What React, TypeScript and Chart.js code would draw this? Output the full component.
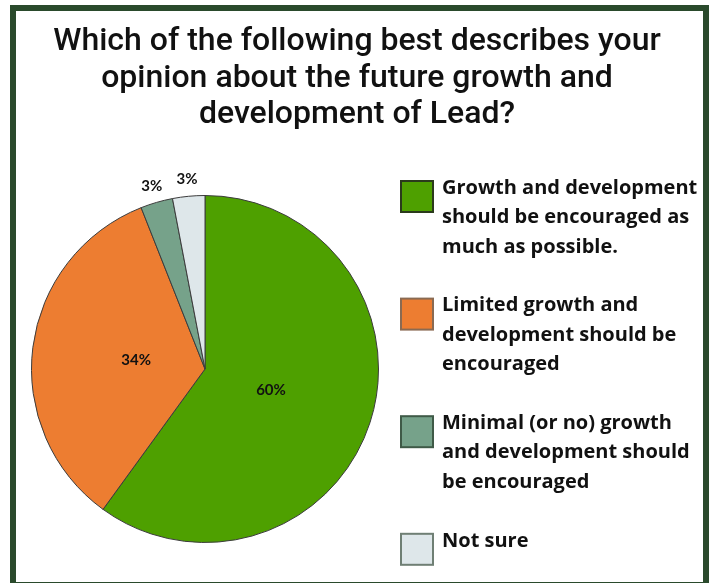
import React, { useEffect, useRef } from "react";
import { Chart, registerables } from "chart.js";

Chart.register(...registerables);

const titleLines = [
  "Which of the following best describes your",
  "opinion about the future growth and",
  "development of Lead?",
];
const categories = [
  ["Growth and development", "should be encouraged as", "much as possible."],
  ["Limited growth and", "development should be", "encouraged"],
  ["Minimal (or no) growth", "and development should", "be encouraged"],
  ["Not sure"],
];
const values = [60, 34, 3, 3];
const colors = ["#4EA000", "#ED7D31", "#76A28A", "#DEE7EA"];
const squareBorders = ["#2B3A1C", "#8A6A52", "#3F5A47", "#6F7F74"];

const framePlugin = {
  id: "frame",
  beforeDraw(chart: any) {
    const ctx = chart.ctx;
    ctx.save();
    ctx.fillStyle = "#ffffff";
    ctx.fillRect(0, 0, chart.width, chart.height);
    ctx.strokeStyle = "#2A4A2C";
    ctx.lineWidth = 6;
    ctx.strokeRect(13, 8, 693, 577);
    ctx.restore();
  },
  afterDraw(chart: any) {
    const ctx = chart.ctx;
    ctx.save();
    // title
    ctx.fillStyle = "#111111";
    ctx.font = "500 32px Roboto";
    ctx.textAlign = "center";
    ctx.textBaseline = "middle";
    titleLines.forEach((t, i) => ctx.fillText(t, 357, 42 + i * 36.5));

    // data labels
    const meta = chart.getDatasetMeta(0);
    ctx.font = "bold 15px Lato";
    ctx.fillStyle = "#111111";
    meta.data.forEach((arc: any, i: number) => {
      const p = arc.getProps(["x", "y", "startAngle", "endAngle", "outerRadius"], true);
      const mid = (p.startAngle + p.endAngle) / 2;
      const r = values[i] < 5 ? p.outerRadius * 1.1 : p.outerRadius * 0.4;
      ctx.fillText(values[i] + "%", p.x + Math.cos(mid) * r, p.y + Math.sin(mid) * r);
    });

    // legend
    const lh = 29.4;
    let y = 188;
    ctx.textAlign = "left";
    ctx.font = "bold 20px 'Open Sans'";
    categories.forEach((lines, i) => {
      ctx.fillStyle = colors[i];
      ctx.strokeStyle = squareBorders[i];
      ctx.lineWidth = 2;
      ctx.fillRect(401, y - 7, 32, 31);
      ctx.strokeRect(401, y - 7, 32, 31);
      ctx.fillStyle = "#111111";
      lines.forEach((l, j) => ctx.fillText(l, 442, y + j * lh));
      y += (lines.length + 1) * lh;
    });
    ctx.restore();
  },
};

export default function App() {
  const ref = useRef<HTMLCanvasElement>(null);
  useEffect(() => {
    if (!ref.current) return;
    const chart = new Chart(ref.current, {
      type: "pie",
      data: {
        labels: categories.map((c) => c.join(" ")),
        datasets: [
          {
            data: values,
            backgroundColor: colors,
            borderColor: "#3C3C3C",
            borderWidth: 1,
          },
        ],
      },
      options: {
        responsive: false,
        animation: false,
        devicePixelRatio: 1,
        layout: { padding: { left: 31, right: 331, top: 195, bottom: 40 } },
        plugins: {
          legend: { display: false },
          title: { display: false },
          tooltip: { enabled: false },
        },
      },
      plugins: [framePlugin],
    });
    return () => chart.destroy();
  }, []);
  return (
    <div style={{ position: "absolute", left: 0, top: 0, width: 710, height: 583 }}>
      <canvas ref={ref} width={710} height={583} />
    </div>
  );
}
